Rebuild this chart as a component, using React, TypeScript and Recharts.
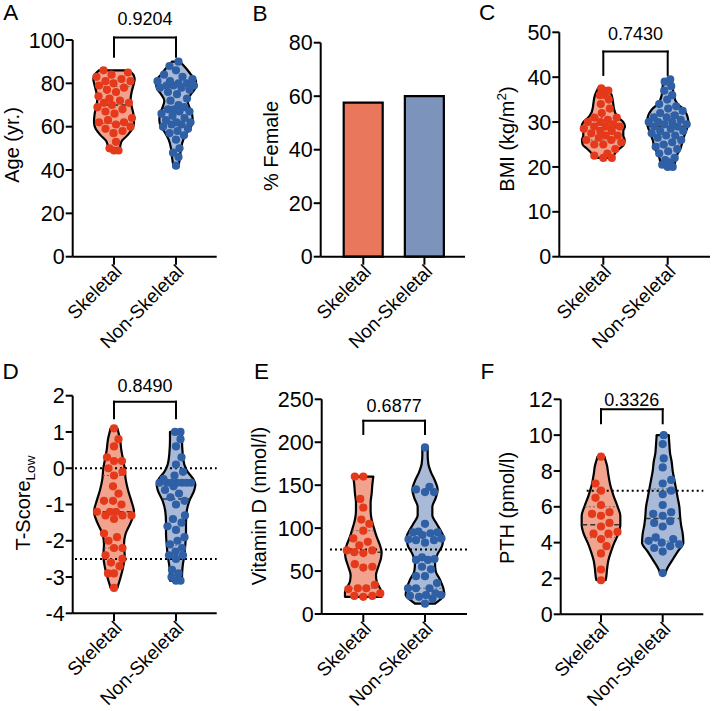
import React from "react";
import {
  ComposedChart,
  BarChart,
  Bar,
  Cell,
  Area,
  Scatter,
  XAxis,
  YAxis,
  ReferenceLine,
} from "recharts";

const FONT = "'Liberation Sans', Arial, Helvetica, sans-serif";

const groups = ["Skeletal", "Non-Skeletal"];

// A - age
const ageSkeletal = [86, 85, 84, 83, 82, 81, 81, 80, 79, 78, 77, 76, 74, 73, 72, 71, 71, 70, 69, 68, 67, 66, 64, 63, 62, 62, 61, 60, 59, 58, 57, 53, 50, 49, 49];
const ageNonSkeletal = [90, 88, 86, 84, 83, 82, 81, 81, 80, 80, 79, 79, 79, 78, 78, 77, 76, 75, 73, 72, 70, 69, 68, 68, 67, 67, 66, 65, 64, 63, 62, 62, 61, 61, 60, 59, 58, 57, 56, 54, 50, 48, 46, 42];

// B - % female
const femalePct = [57.6, 60.0];

// C - BMI
const bmiSkeletal = [37.5, 37, 36, 36, 35, 34, 33, 32, 31, 31, 30.5, 30, 30, 29.5, 29, 29, 29, 28.5, 28, 28, 27.5, 27, 27, 26.5, 26, 26, 25.5, 25, 25, 24, 23, 22.5, 22, 22];
const bmiNonSkeletal = [39.5, 39, 38, 37, 36, 35, 34, 33.5, 33, 32.5, 32, 31.5, 31, 31, 30.5, 30, 30, 30, 29.5, 29.5, 29, 29, 28.5, 28, 28, 27.5, 27, 27, 26.5, 26, 25.5, 25, 24.5, 24, 23.5, 23, 22, 21.5, 21, 20.5, 20, 20];

// D - T-score (lowest site)
const tScoreSkeletal = [1.1, 0.8, 0.6, 0.3, 0.2, 0.2, 0, -0.1, -0.2, -0.5, -0.7, -0.9, -0.9, -1.0, -1.2, -1.2, -1.2, -1.3, -1.3, -1.3, -1.4, -1.8, -1.9, -2.0, -2.2, -2.2, -2.4, -2.5, -2.6, -2.7, -2.9, -2.9, -3.3];
const tScoreNonSkeletal = [1.0, 1.0, 0.8, 0.6, 0.3, 0.1, -0.1, -0.2, -0.3, -0.4, -0.4, -0.4, -0.4, -0.4, -0.4, -0.4, -0.5, -0.6, -0.7, -0.8, -0.9, -1.0, -1.3, -1.4, -1.5, -1.6, -1.7, -1.9, -2.0, -2.1, -2.2, -2.3, -2.4, -2.4, -2.5, -2.8, -2.9, -3.0, -3.1, -3.1];

// E - vitamin D
const vitDSkeletal = [160, 160, 134, 124, 110, 105, 97, 88, 84, 80, 74, 74, 72, 71, 58, 55, 54, 34, 30, 30, 29, 24, 21, 21, 20];
const vitDNonSkeletal = [194, 148, 145, 142, 142, 105, 96, 95, 95, 94, 92, 88, 87, 86, 86, 83, 66, 64, 63, 63, 55, 52, 44, 44, 36, 30, 30, 30, 24, 22, 22, 21, 20, 18, 12];

// F - PTH
const pthSkeletal = [8.8, 7.3, 6.9, 6.5, 6.1, 5.7, 5.6, 5.5, 5.1, 4.9, 4.6, 4.5, 4.5, 4.2, 3.8, 3.4, 2.5, 1.9];
const pthNonSkeletal = [10, 9.5, 8.7, 8.2, 7.5, 7.3, 6.9, 6.7, 6.1, 5.7, 5.6, 5.5, 5.2, 5.1, 4.9, 4.3, 4.2, 4.1, 4.0, 3.9, 3.8, 3.7, 3.5, 2.3];

// violin outlines: [value, relative density]
type Shape = [number, number][];
const ageSkeletalViolin: Shape = [[49, 18], [50, 18], [53, 22], [56, 40], [59, 55], [62, 60], [66, 58], [70, 52], [73, 50], [76, 53], [79, 58], [82, 62], [84, 58], [86, 45]];
const ageNonSkeletalViolin: Shape = [[42, 8], [46, 12], [50, 15], [54, 22], [57, 32], [60, 45], [63, 50], [66, 48], [69, 40], [72, 35], [75, 45], [78, 58], [81, 60], [84, 45], [87, 30], [90, 12]];
const bmiSkeletalViolin: Shape = [[22, 30], [23, 35], [24, 48], [25, 62], [26, 64], [27, 60], [28, 60], [29, 65], [30, 60], [31, 45], [32, 36], [33, 32], [34, 30], [36, 25], [37.5, 16]];
const bmiNonSkeletalViolin: Shape = [[20, 20], [21, 22], [22, 25], [23, 30], [24, 38], [25, 42], [26, 45], [27, 50], [28, 55], [29, 60], [30, 62], [31, 60], [32, 55], [33, 45], [34, 30], [36, 18], [38, 15], [39.5, 12]];
const tScoreSkeletalViolin: Shape = [[-3.3, 10], [-3.0, 20], [-2.7, 28], [-2.4, 32], [-2.1, 30], [-1.8, 35], [-1.5, 50], [-1.2, 60], [-0.9, 52], [-0.6, 42], [-0.3, 35], [0, 32], [0.2, 28], [0.5, 22], [0.8, 18], [1.1, 10]];
const tScoreNonSkeletalViolin: Shape = [[-3.1, 18], [-3.0, 18], [-2.7, 20], [-2.4, 25], [-2.1, 28], [-1.8, 30], [-1.5, 30], [-1.2, 32], [-0.9, 40], [-0.6, 55], [-0.45, 58], [-0.3, 52], [-0.1, 35], [0.1, 25], [0.4, 20], [0.8, 18], [1.0, 18]];
const vitDSkeletalViolin: Shape = [[20, 55], [25, 55], [30, 50], [38, 40], [45, 38], [55, 45], [65, 53], [72, 55], [80, 50], [90, 40], [100, 32], [110, 25], [120, 22], [130, 22], [140, 25], [150, 27], [160, 30]];
const vitDNonSkeletalViolin: Shape = [[12, 30], [15, 40], [22, 58], [30, 55], [40, 45], [50, 32], [60, 30], [70, 38], [80, 52], [90, 55], [95, 50], [105, 35], [115, 22], [125, 22], [135, 32], [145, 38], [155, 30], [165, 18], [175, 10], [185, 8], [194, 8]];
const pthSkeletalViolin: Shape = [[1.9, 13], [2.0, 15], [2.5, 18], [3.0, 22], [3.5, 30], [4.0, 40], [4.5, 52], [5.0, 58], [5.5, 58], [6.0, 50], [6.6, 38], [7.2, 28], [7.8, 22], [8.3, 18], [8.8, 10]];
const pthNonSkeletalViolin: Shape = [[2.3, 8], [2.5, 12], [3.0, 28], [3.5, 45], [4.0, 62], [4.5, 60], [5.0, 55], [5.5, 52], [6.0, 50], [6.5, 45], [7.0, 40], [7.5, 35], [8.0, 30], [8.5, 27], [9.0, 22], [9.5, 20], [10, 18]];

// p-values and reference thresholds
const pValues = { age: "0.9204", bmi: "0.7430", tScore: "0.8490", vitD: "0.6877", pth: "0.3326" };
const tScoreRefs = [0, -2.5];
const vitDRefs = [75];
const pthRefs = [6.9];

const COLORS = [
  { dot: "#E4391B", fill: "#F2A38E", bar: "#E9775B" },
  { dot: "#2F5FA5", fill: "#A8BAD8", bar: "#7C94BB" },
];
const DOT_R = 4.1;
const DENSITY_PX = 1 / 3; // relative density unit -> px of half width
const Y_AXIS_W = 50;
const X_AXIS_H = 60;

const halfWidth = (shape: Shape, v: number) => {
  if (v <= shape[0][0]) return shape[0][1] * DENSITY_PX;
  for (let i = 1; i < shape.length; i++) {
    const [v0, d0] = shape[i - 1];
    const [v1, d1] = shape[i];
    if (v <= v1) return (d0 + ((v - v0) / (v1 - v0)) * (d1 - d0)) * DENSITY_PX;
  }
  return shape[shape.length - 1][1] * DENSITY_PX;
};

const quantile = (vals: number[], p: number) => {
  const s = [...vals].sort((a, b) => a - b);
  const h = (s.length - 1) * p;
  const lo = Math.floor(h);
  const hi = Math.ceil(h);
  return s[lo] + (s[hi] - s[lo]) * (h - lo);
};

// simple beeswarm inside the violin outline (pixel space)
const swarm = (vals: number[], shape: Shape, cat: number, catPx: number, pxPerUnit: number) => {
  const sorted = [...vals].sort((a, b) => a - b);
  const placed: { x: number; y: number }[] = [];
  const minD = 2 * DOT_R + 0.8;
  return sorted.map((v, k) => {
    const y = v * pxPerUnit;
    const lim = Math.max(0, halfWidth(shape, v) - DOT_R * 0.3);
    let best = 0;
    let bestScore = -Infinity;
    for (let s = 0; s <= 160; s++) {
      const mag = Math.ceil(s / 2) * 0.5;
      const dx = (s % 2 === k % 2 ? 1 : -1) * mag;
      if (Math.abs(dx) > lim) continue;
      let md = Infinity;
      for (const p of placed) md = Math.min(md, Math.hypot(p.x - dx, p.y - y));
      if (md >= minD) {
        best = dx;
        break;
      }
      if (md > bestScore) {
        bestScore = md;
        best = dx;
      }
    }
    placed.push({ x: best, y });
    return { x: cat + best / catPx, y: v };
  });
};

const catTick = (props: any) => {
  const { x, y, payload } = props;
  const label = typeof payload.value === "number" ? groups[Math.round(payload.value) - 1] : payload.value;
  const ax = x + 9;
  const ay = y + 6;
  return (
    <text x={ax} y={ay} transform={`rotate(-45 ${ax} ${ay})`} textAnchor="end" fontSize={19} fontFamily={FONT} fill="#000">
      {label}
    </text>
  );
};

const yTick = { fontSize: 21.5, fontFamily: FONT, fill: "#000" };

type Box = { left: number; top: number; width: number; height: number };
type Plot = { x0: number; x1: number; y0: number; y1: number };

type ViolinCfg = {
  box: Box;
  plot: Plot;
  cats: [number, number];
  yDomain: [number, number];
  yTicks: number[];
  values: [number[], number[]];
  shapes: [Shape, Shape];
  pValue: string;
  bracket: [number, number];
  labelOffset: number;
  refs?: number[];
  refFrom?: number;
};

const marginFor = (box: Box, plot: Plot) => ({
  top: plot.y0 - box.top,
  left: plot.x0 - box.left - Y_AXIS_W,
  right: box.left + box.width - plot.x1,
  bottom: box.top + box.height - plot.y1 - X_AXIS_H,
});

const ViolinPanel = ({ cfg }: { cfg: ViolinCfg }) => {
  const { box, plot, cats } = cfg;
  const catPx = cats[1] - cats[0];
  const xDomain = [1 - (cats[0] - plot.x0) / catPx, 1 + (plot.x1 - cats[0]) / catPx];
  const pxPerUnit = (plot.y1 - plot.y0) / (cfg.yDomain[1] - cfg.yDomain[0]);
  const refStart = 1 + ((cfg.refFrom ?? plot.x0) - cats[0]) / catPx;

  const parts = [0, 1].map((i) => {
    const c = i + 1;
    const shape = cfg.shapes[i];
    const vals = cfg.values[i];
    const hw = (v: number) => halfWidth(shape, v) / catPx;
    return {
      c,
      shape,
      hw,
      area: shape.map(([v, d]) => ({ y: v, range: [c - (d * DENSITY_PX) / catPx, c + (d * DENSITY_PX) / catPx] })),
      dots: swarm(vals, shape, c, catPx, pxPerUnit),
      q: [0.25, 0.5, 0.75].map((t) => quantile(vals, t)),
    };
  });

  return (
    <div style={{ position: "absolute", left: box.left, top: box.top }}>
      <ComposedChart layout="vertical" width={box.width} height={box.height} margin={marginFor(box, plot)}>
        <XAxis
          type="number"
          dataKey="x"
          domain={xDomain}
          allowDataOverflow
          ticks={[1, 2]}
          interval={0}
          tick={catTick}
          tickSize={8}
          stroke="#000"
          strokeWidth={2}
          height={X_AXIS_H}
        />
        <YAxis
          type="number"
          dataKey="y"
          domain={cfg.yDomain}
          allowDataOverflow
          reversed
          ticks={cfg.yTicks}
          interval={0}
          tick={yTick}
          tickSize={7}
          tickMargin={1}
          stroke="#000"
          strokeWidth={2}
          width={Y_AXIS_W}
        />
        {parts.map((g, i) => (
          <Area
            key={`area-${i}`}
            data={g.area}
            dataKey="range"
            type="monotone"
            fill={COLORS[i].fill}
            fillOpacity={1}
            stroke="#000"
            strokeWidth={2.2}
            dot={false}
            activeDot={false}
            isAnimationActive={false}
          />
        ))}
        {parts.map((g, i) =>
          [g.shape[0][0], g.shape[g.shape.length - 1][0]].map((v, j) => (
            <ReferenceLine
              key={`cap-${i}-${j}`}
              segment={[{ x: g.c - g.hw(v), y: v }, { x: g.c + g.hw(v), y: v }]}
              stroke="#000"
              strokeWidth={2.2}
              strokeLinecap="round"
              ifOverflow="visible"
            />
          ))
        )}
        {parts.map((g, i) =>
          g.q.map((v, j) => (
            <ReferenceLine
              key={`q-${i}-${j}`}
              segment={[{ x: g.c - g.hw(v) * 0.97, y: v }, { x: g.c + g.hw(v) * 0.97, y: v }]}
              stroke={j === 1 ? "#333" : "#666"}
              strokeWidth={j === 1 ? 1.5 : 1}
              strokeDasharray={j === 1 ? "5 3" : "2 2"}
              ifOverflow="visible"
            />
          ))
        )}
        {(cfg.refs ?? []).map((v, j) => (
          <ReferenceLine
            key={`ref-${j}`}
            segment={[{ x: refStart, y: v }, { x: xDomain[1], y: v }]}
            stroke="#000"
            strokeWidth={2}
            strokeDasharray="2 3"
            ifOverflow="visible"
          />
        ))}
        <ReferenceLine
          segment={[{ x: 1, y: cfg.bracket[1] }, { x: 1, y: cfg.bracket[0] }]}
          stroke="#000"
          strokeWidth={2}
          strokeLinecap="square"
          ifOverflow="visible"
        />
        <ReferenceLine
          segment={[{ x: 1, y: cfg.bracket[0] }, { x: 2, y: cfg.bracket[0] }]}
          stroke="#000"
          strokeWidth={2}
          strokeLinecap="square"
          ifOverflow="visible"
          label={{ value: cfg.pValue, position: "top", offset: cfg.labelOffset, fill: "#000", fontSize: 18, fontFamily: FONT }}
        />
        <ReferenceLine
          segment={[{ x: 2, y: cfg.bracket[0] }, { x: 2, y: cfg.bracket[1] }]}
          stroke="#000"
          strokeWidth={2}
          strokeLinecap="square"
          ifOverflow="visible"
        />
        {parts.map((g, i) => (
          <Scatter
            key={`dots-${i}`}
            data={g.dots}
            fill={COLORS[i].dot}
            isAnimationActive={false}
            shape={(s: any) => <circle cx={s.cx} cy={s.cy} r={DOT_R} fill={COLORS[i].dot} />}
          />
        ))}
      </ComposedChart>
    </div>
  );
};

const femaleData = groups.map((g, i) => ({ group: g, pct: femalePct[i] }));

const FemalePanel = () => {
  const box = { left: 236, top: 0, width: 236, height: 370 };
  const plot = { x0: 320.7, x1: 465, y0: 42.7, y1: 256.7 };
  return (
    <div style={{ position: "absolute", left: box.left, top: box.top }}>
      <BarChart width={box.width} height={box.height} data={femaleData} margin={marginFor(box, plot)}>
        <XAxis
          dataKey="group"
          padding={{ left: 12, right: 10 }}
          interval={0}
          tick={catTick}
          tickSize={8}
          stroke="#000"
          strokeWidth={2}
          height={X_AXIS_H}
        />
        <YAxis
          type="number"
          domain={[0, 80]}
          ticks={[0, 20, 40, 60, 80]}
          interval={0}
          tick={yTick}
          tickSize={7}
          tickMargin={1}
          stroke="#000"
          strokeWidth={2}
          width={Y_AXIS_W}
        />
        <Bar dataKey="pct" barSize={39} stroke="#000" strokeWidth={2.2} isAnimationActive={false}>
          {femaleData.map((d, i) => (
            <Cell key={d.group} fill={COLORS[i].bar} />
          ))}
        </Bar>
      </BarChart>
    </div>
  );
};

const violinPanels: ViolinCfg[] = [
  {
    box: { left: 0, top: 0, width: 236, height: 370 },
    plot: { x0: 72.7, x1: 216.7, y0: 40, y1: 256.7 },
    cats: [114, 176],
    yDomain: [0, 100],
    yTicks: [0, 20, 40, 60, 80, 100],
    values: [ageSkeletal, ageNonSkeletal],
    shapes: [ageSkeletalViolin, ageNonSkeletalViolin],
    pValue: pValues.age,
    bracket: [101.1, 92.3],
    labelOffset: 12.5,
  },
  {
    box: { left: 472, top: 0, width: 241, height: 370 },
    plot: { x0: 559.3, x1: 710, y0: 32.3, y1: 256.7 },
    cats: [603.3, 667.7],
    yDomain: [0, 50],
    yTicks: [0, 10, 20, 30, 40, 50],
    values: [bmiSkeletal, bmiNonSkeletal],
    shapes: [bmiSkeletalViolin, bmiNonSkeletalViolin],
    pValue: pValues.bmi,
    bracket: [45.7, 40.5],
    labelOffset: 11.5,
  },
  {
    box: { left: 0, top: 335, width: 236, height: 376 },
    plot: { x0: 72.7, x1: 216.7, y0: 395.7, y1: 613.3 },
    cats: [114, 176],
    yDomain: [-4, 2],
    yTicks: [-4, -3, -2, -1, 0, 1, 2],
    values: [tScoreSkeletal, tScoreNonSkeletal],
    shapes: [tScoreSkeletalViolin, tScoreNonSkeletalViolin],
    pValue: pValues.tScore,
    bracket: [1.835, 1.377],
    labelOffset: 10,
    refs: tScoreRefs,
    refFrom: 75,
  },
  {
    box: { left: 236, top: 335, width: 236, height: 376 },
    plot: { x0: 321.7, x1: 467, y0: 399.3, y1: 614 },
    cats: [363.3, 425],
    yDomain: [0, 250],
    yTicks: [0, 50, 100, 150, 200, 250],
    values: [vitDSkeletal, vitDNonSkeletal],
    shapes: [vitDSkeletalViolin, vitDNonSkeletalViolin],
    pValue: pValues.vitD,
    bracket: [225, 209.6],
    labelOffset: 9,
    refs: vitDRefs,
    refFrom: 330,
  },
  {
    box: { left: 472, top: 335, width: 241, height: 376 },
    plot: { x0: 560.7, x1: 703.3, y0: 399.3, y1: 614.3 },
    cats: [601, 662.7],
    yDomain: [0, 12],
    yTicks: [0, 2, 4, 6, 8, 10, 12],
    values: [pthSkeletal, pthNonSkeletal],
    shapes: [pthSkeletalViolin, pthNonSkeletalViolin],
    pValue: pValues.pth,
    bracket: [11.44, 10.66],
    labelOffset: 3,
    refs: pthRefs,
    refFrom: 586.7,
  },
];

// panel letters: x, cap-top y
const letters = [
  { t: "A", x: 3.3, y: 4 },
  { t: "B", x: 252.5, y: 5 },
  { t: "C", x: 479, y: 4 },
  { t: "D", x: 2.5, y: 363 },
  { t: "E", x: 254, y: 363 },
  { t: "F", x: 480.5, y: 363 },
];

const small = { fontSize: "0.68em", lineHeight: 0 };
const titles = [
  { node: <>Age (yr.)</>, x: 11.7, y: 144.5 },
  { node: <>% Female</>, x: 271, y: 146 },
  { node: <>BMI (kg/m<sup style={small}>2</sup>)</>, x: 507, y: 138.5 },
  { node: <>T-Score<sub style={small}>Low</sub></>, x: 23, y: 503 },
  { node: <>Vitamin D (nmol/l)</>, x: 258.7, y: 505.5 },
  { node: <>PTH (pmol/l)</>, x: 507, y: 507.5 },
];

export default function App() {
  return (
    <div
      style={{
        position: "absolute",
        left: 0,
        top: 0,
        width: 713,
        height: 711,
        background: "#fff",
        overflow: "hidden",
        fontFamily: FONT,
        color: "#000",
      }}
    >
      <ViolinPanel cfg={violinPanels[0]} />
      <FemalePanel />
      {violinPanels.slice(1).map((cfg, i) => (
        <ViolinPanel key={i} cfg={cfg} />
      ))}
      {titles.map((t, i) => (
        <div
          key={i}
          style={{
            position: "absolute",
            left: t.x,
            top: t.y,
            transform: "translate(-50%, -50%) rotate(-90deg)",
            whiteSpace: "nowrap",
            fontSize: 20,
            lineHeight: "22px",
          }}
        >
          {t.node}
        </div>
      ))}
      {letters.map((l) => (
        <div
          key={l.t}
          style={{
            position: "absolute",
            left: l.x,
            top: Math.max(0, l.y - 4.2),
            fontSize: 22.5,
            lineHeight: "26px",
          }}
        >
          {l.t}
        </div>
      ))}
    </div>
  );
}
